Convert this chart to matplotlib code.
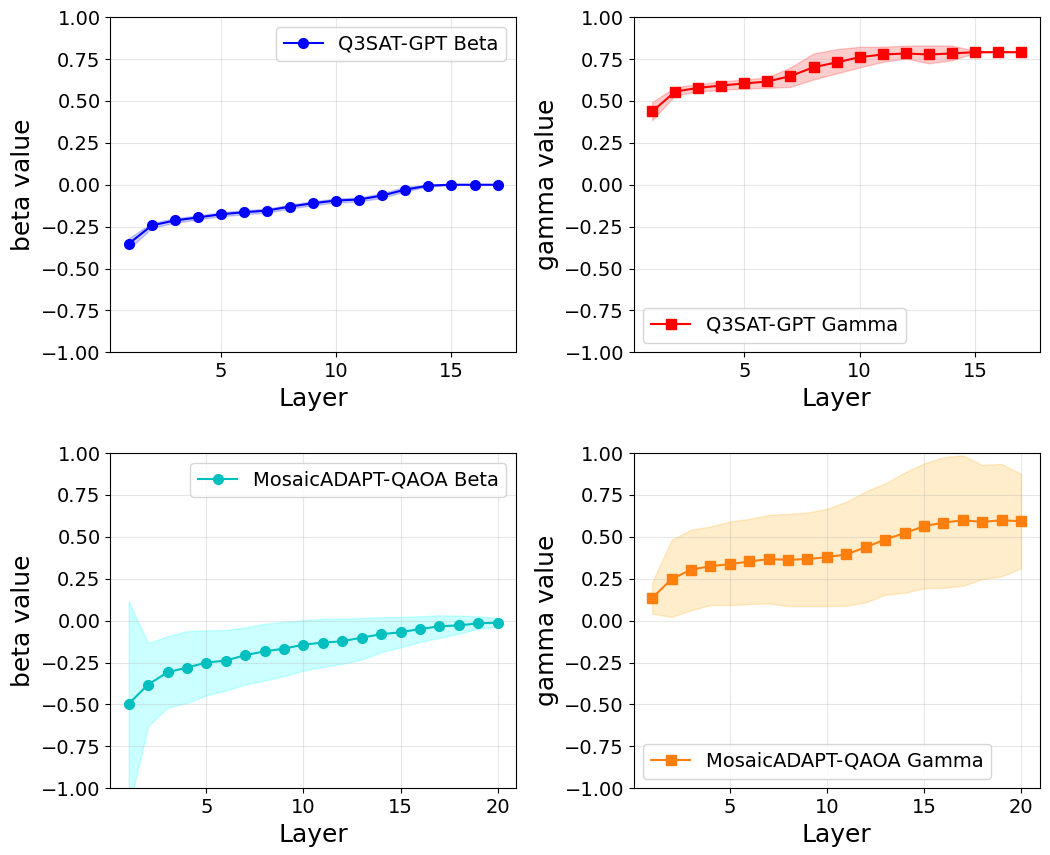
import numpy as np
import matplotlib
matplotlib.use('Agg')
import matplotlib.pyplot as plt

# Q3SAT-GPT (17 layers)
q_layers = list(range(1, 18))
q_beta = [-0.352, -0.243, -0.213, -0.195, -0.176, -0.164, -0.154, -0.130, -0.110,
          -0.094, -0.088, -0.064, -0.029, -0.005, 0.0, 0.0, 0.0]
q_beta_lo = [-0.385, -0.258, -0.226, -0.207, -0.188, -0.176, -0.166, -0.142, -0.122,
             -0.106, -0.100, -0.078, -0.040, -0.010, -0.002, 0.0, 0.0]
q_beta_hi = [-0.320, -0.228, -0.200, -0.183, -0.164, -0.152, -0.142, -0.118, -0.098,
             -0.082, -0.076, -0.050, -0.012, 0.000, 0.002, 0.0, 0.0]
q_gamma = [0.437, 0.556, 0.578, 0.592, 0.604, 0.616, 0.648, 0.701, 0.730,
           0.761, 0.777, 0.783, 0.777, 0.783, 0.791, 0.791, 0.791]
q_gamma_lo = [0.385, 0.534, 0.556, 0.566, 0.574, 0.578, 0.584, 0.628, 0.664,
              0.700, 0.733, 0.753, 0.724, 0.743, 0.785, 0.791, 0.791]
q_gamma_hi = [0.494, 0.582, 0.600, 0.616, 0.628, 0.640, 0.700, 0.783, 0.809,
              0.823, 0.823, 0.830, 0.830, 0.830, 0.800, 0.791, 0.791]

# MosaicADAPT-QAOA (20 layers)
m_layers = list(range(1, 21))
m_beta = [-0.496, -0.381, -0.308, -0.280, -0.250, -0.238, -0.206, -0.183, -0.167, -0.143,
          -0.131, -0.123, -0.101, -0.081, -0.069, -0.050, -0.034, -0.028, -0.016, -0.012]
m_beta_lo = [-1.12, -0.629, -0.520, -0.490, -0.446, -0.417, -0.381, -0.357, -0.331, -0.298,
             -0.276, -0.258, -0.232, -0.188, -0.159, -0.127, -0.103, -0.077, -0.050, -0.034]
m_beta_hi = [0.115, -0.133, -0.093, -0.063, -0.058, -0.056, -0.040, -0.018, -0.008, 0.002,
             0.010, 0.012, 0.016, 0.020, 0.022, 0.026, 0.032, 0.030, 0.026, 0.016]
m_gamma = [0.135, 0.248, 0.304, 0.325, 0.337, 0.353, 0.367, 0.363, 0.367, 0.379,
           0.395, 0.438, 0.484, 0.522, 0.563, 0.585, 0.599, 0.589, 0.599, 0.593]
m_gamma_lo = [0.042, 0.022, 0.062, 0.093, 0.093, 0.099, 0.103, 0.087, 0.087, 0.087,
              0.089, 0.109, 0.155, 0.165, 0.194, 0.196, 0.208, 0.248, 0.264, 0.312]
m_gamma_hi = [0.228, 0.482, 0.542, 0.562, 0.591, 0.607, 0.631, 0.637, 0.645, 0.667,
              0.710, 0.770, 0.819, 0.883, 0.938, 0.974, 0.986, 0.929, 0.935, 0.875]

fig, axes = plt.subplots(2, 2, figsize=(10.5, 8.55), dpi=100)
fig.subplots_adjust(left=0.105, right=0.99, top=0.98, bottom=0.078, wspace=0.29, hspace=0.30)

panels = [
    (axes[0, 0], q_layers, q_beta, q_beta_lo, q_beta_hi, 'b', 'blue', 'o', 'Q3SAT-GPT Beta', 'beta value', 'upper right'),
    (axes[0, 1], q_layers, q_gamma, q_gamma_lo, q_gamma_hi, 'r', 'red', 's', 'Q3SAT-GPT Gamma', 'gamma value', 'lower left'),
    (axes[1, 0], m_layers, m_beta, m_beta_lo, m_beta_hi, 'c', 'cyan', 'o', 'MosaicADAPT-QAOA Beta', 'beta value', 'upper right'),
    (axes[1, 1], m_layers, m_gamma, m_gamma_lo, m_gamma_hi, '#ff7f0e', 'orange', 's', 'MosaicADAPT-QAOA Gamma', 'gamma value', 'lower left'),
]

for ax, x, y, lo, hi, col, fcol, mk, lab, ylab, loc in panels:
    ax.fill_between(x, lo, hi, color=fcol, alpha=0.2)
    ax.plot(x, y, color=col, marker=mk, markersize=7, linewidth=1.5, label=lab)
    ax.set_ylim(-1, 1)
    ax.set_yticks(np.arange(-1, 1.01, 0.25))
    ax.set_xticks([5, 10, 15] if len(x) == 17 else [5, 10, 15, 20])
    ax.set_xlabel('Layer', fontsize=18)
    ax.set_ylabel(ylab, fontsize=18)
    ax.tick_params(labelsize=14)
    ax.grid(True, alpha=0.3)
    ax.legend(loc=loc, fontsize=14)

plt.savefig('out.png')
